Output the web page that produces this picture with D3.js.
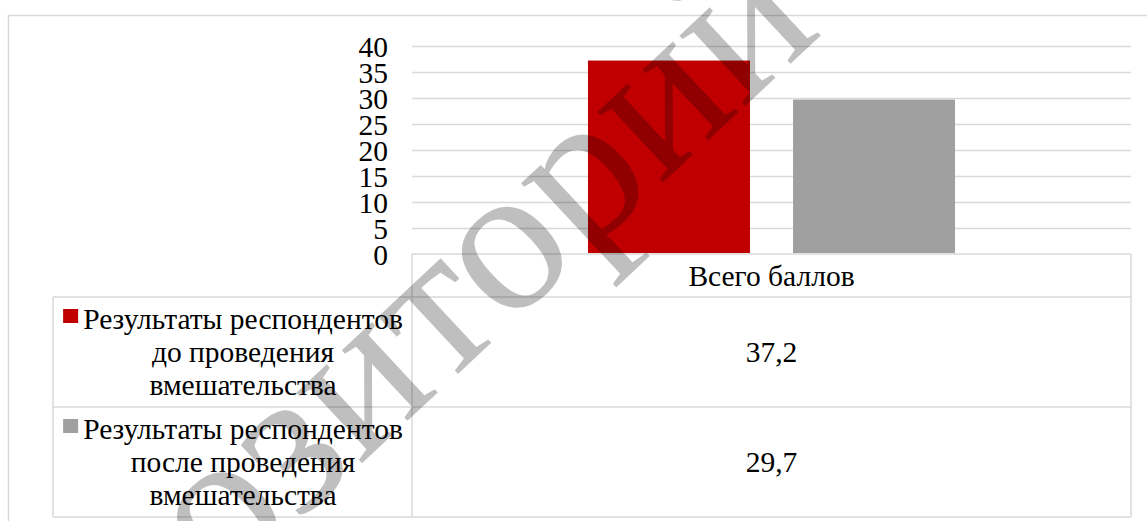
<!DOCTYPE html>
<html>
<head>
<meta charset="utf-8">
<script src="https://cdn.jsdelivr.net/npm/d3@7/dist/d3.min.js"></script>
<style>
    html, body { margin: 0; padding: 0; background: #fff; }
    svg { display: block; }
</style>
</head>
<body>
<div id="chart"></div>
<script>
const categories = ["Всего баллов"]
const seriesLabels = [
    ["Результаты респондентов", "до проведения", "вмешательства"],
    ["Результаты респондентов", "после проведения", "вмешательства"],
]
const seriesValues = [[37.2], [29.7]]
const yTicks = [0, 5, 10, 15, 20, 25, 30, 35, 40]

const seriesColors = ["#c00000", "#a0a0a0"]
const gridColor = "#d9d9d9"
const serif = "Liberation Serif"

const width = 1147
const height = 521
const fontSize = 29.5

const plot = { left: 412, right: 1131, top: 46, bottom: 254 }
const table = { left: 53, headerBottom: 297, rowHeight: 110 }

const ruFormat = d3.formatLocale({ decimal: ",", thousands: " ", grouping: [3], currency: ["", ""] }).format(".1f")

const svg = d3.select("#chart").append("svg").attr("width", width).attr("height", height)

const serifText = (sel) => sel.attr("font-family", serif).attr("font-size", fontSize).attr("fill", "#000")

// outer chart frame (runs past the picture on the right and bottom)
svg.append("rect")
    .attr("x", 8.5)
    .attr("y", 15.5)
    .attr("width", width + 20)
    .attr("height", height + 20)
    .attr("fill", "#fff")
    .attr("stroke", gridColor)
    .attr("stroke-width", 1.5)

const y = d3.scaleLinear().domain([0, 40]).range([plot.bottom, plot.top])

const x0 = d3.scaleBand().domain(categories).range([plot.left, plot.right])
const x1 = d3
    .scaleBand()
    .domain(d3.range(seriesValues.length))
    .range([0, x0.bandwidth()])
    .paddingInner(0.21)
    .paddingOuter(0.858)

// gridlines
svg.append("g")
    .attr("transform", `translate(${plot.left},0)`)
    .call(d3.axisLeft(y).tickValues(yTicks.filter((t) => t > 0)).tickSize(-(plot.right - plot.left)).tickFormat(""))
    .call((g) => g.select(".domain").remove())
    .call((g) => g.selectAll("line").attr("stroke", gridColor).attr("stroke-width", 1.5))

// y axis labels
svg.append("g")
    .attr("transform", `translate(${plot.left},0)`)
    .call(d3.axisLeft(y).tickValues(yTicks).tickSize(0).tickPadding(24))
    .attr("font-family", serif)
    .attr("font-size", fontSize)
    .call((g) => g.select(".domain").remove())
    .call((g) => g.selectAll("text").call(serifText).attr("dy", "0.34em"))

// bars
const barGroups = svg
    .selectAll(".series")
    .data(seriesValues)
    .enter()
    .append("g")
    .attr("class", "series")
    .attr("fill", (_, i) => seriesColors[i])

barGroups
    .selectAll("rect")
    .data((vals, i) => vals.map((v, c) => ({ value: v, category: categories[c], series: i })))
    .enter()
    .append("rect")
    .attr("x", (d) => x0(d.category) + x1(d.series))
    .attr("width", x1.bandwidth())
    .attr("y", (d) => y(d.value))
    .attr("height", (d) => y(0) - y(d.value) - 1)

// --- Data table under the plot ---
const tableBottom = table.headerBottom + table.rowHeight * seriesValues.length
const tableLines = svg.append("g").attr("stroke", gridColor).attr("stroke-width", 1.5).attr("fill", "none")

tableLines.append("line").attr("x1", plot.left).attr("x2", plot.right).attr("y1", plot.bottom).attr("y2", plot.bottom)
d3.range(seriesValues.length + 1).forEach((r) => {
    const yy = table.headerBottom + r * table.rowHeight
    tableLines.append("line").attr("x1", table.left).attr("x2", plot.right).attr("y1", yy).attr("y2", yy)
})
tableLines.append("line").attr("x1", table.left).attr("x2", table.left).attr("y1", table.headerBottom).attr("y2", tableBottom)
x0.domain().forEach((c) => {
    tableLines.append("line").attr("x1", x0(c)).attr("x2", x0(c)).attr("y1", plot.bottom).attr("y2", tableBottom)
})
tableLines.append("line").attr("x1", plot.right).attr("x2", plot.right).attr("y1", plot.bottom).attr("y2", tableBottom)

// category header
svg.selectAll(".cat-label")
    .data(categories)
    .enter()
    .append("text")
    .attr("class", "cat-label")
    .attr("x", (c) => x0(c) + x0.bandwidth() / 2)
    .attr("y", (plot.bottom + table.headerBottom) / 2)
    .attr("dy", "0.36em")
    .attr("text-anchor", "middle")
    .call(serifText)
    .text((c) => c)

// value cells
seriesValues.forEach((vals, i) => {
    const rowMid = table.headerBottom + table.rowHeight * (i + 0.5)
    vals.forEach((v, c) => {
        svg.append("text")
            .attr("x", x0(categories[c]) + x0.bandwidth() / 2)
            .attr("y", rowMid)
            .attr("dy", "0.34em")
            .attr("text-anchor", "middle")
            .call(serifText)
            .text(ruFormat(v))
    })
})

// legend cells
const legendCx = 243
const lineGap = 33
seriesLabels.forEach((lines, i) => {
    const rowMid = table.headerBottom + table.rowHeight * (i + 0.5)
    const labels = svg
        .append("text")
        .attr("text-anchor", "middle")
        .call(serifText)
        .selectAll("tspan")
        .data(lines)
        .enter()
        .append("tspan")
        .attr("x", legendCx)
        .attr("y", (_, k) => rowMid + (k - (lines.length - 1) / 2) * lineGap)
        .attr("dy", "0.34em")
        .text((t) => t)

    const firstWidth = labels.node().getComputedTextLength()
    svg.append("rect")
        .attr("x", legendCx - firstWidth / 2 - 20)
        .attr("y", rowMid - lineGap - 10)
        .attr("width", 15)
        .attr("height", 14)
        .attr("fill", seriesColors[i])
})

// repository watermark
svg.append("text")
    .attr("transform", "translate(-12,812) rotate(-43)")
    .attr("font-family", serif)
    .attr("font-size", 210)
    .attr("fill", "#000")
    .attr("fill-opacity", 0.25)
    .attr("pointer-events", "none")
    .text("Репозиторий")
</script>
</body>
</html>
